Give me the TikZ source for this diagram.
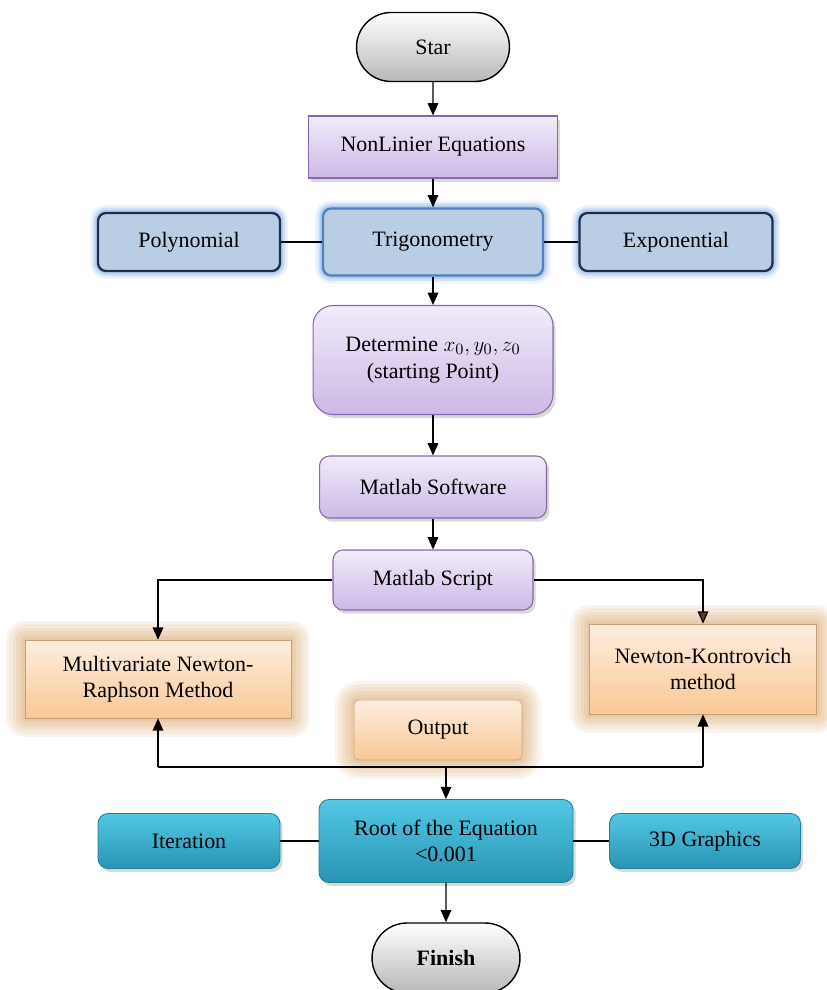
\documentclass[tikz,border=0pt]{standalone}
\usepackage{fontspec}
\setmainfont{Liberation Serif}
\usetikzlibrary{shapes.misc,shadows,arrows.meta}

\definecolor{lavtop}{HTML}{F2ECFA}
\definecolor{lavbot}{HTML}{CCB8E6}
\definecolor{lavline}{HTML}{8767AE}
\definecolor{bluefill}{HTML}{B9CDE5}
\definecolor{navyline}{HTML}{1E2E4F}
\definecolor{midblue}{HTML}{4F81BD}
\definecolor{blueglow}{HTML}{7FA9E0}
\definecolor{peachtop}{HTML}{FEEEDF}
\definecolor{peachbot}{HTML}{F9C896}
\definecolor{orangeglow}{HTML}{C98432}
\definecolor{tealtop}{HTML}{52C8E4}
\definecolor{tealbot}{HTML}{2894B3}
\definecolor{tealline}{HTML}{237F99}
\definecolor{brownarr}{HTML}{5A3B1C}

\tikzset{
  txt/.style={font=\fontsize{12.5}{15}\selectfont, align=center, inner sep=2pt},
  arr/.style={line width=0.7pt, -{Triangle[length=7pt,width=6pt]}},
  link/.style={line width=0.7pt},
  terminal/.style={txt, rounded rectangle, draw=black, line width=0.8pt,
    top color=white, bottom color=black!28},
  procbox/.style={txt, rectangle, draw=lavline, line width=0.6pt,
    top color=lavtop, bottom color=lavbot,
    drop shadow={shadow xshift=1.5pt, shadow yshift=-2pt, opacity=0.3}},
  typebox/.style={txt, rectangle, rounded corners=0.16cm, fill=bluefill,
    draw=navyline, line width=1.3pt,
    preaction={draw=blueglow, line width=9pt, opacity=0.15},
    preaction={draw=blueglow, line width=6pt, opacity=0.25},
    preaction={draw=blueglow, line width=3.5pt, opacity=0.35}},
  glow/.style={preaction={draw=orangeglow, line width=#1, opacity=0.09, line join=round}},
  methodbox/.style={txt, rectangle, draw=peachbot!80!black, line width=0.3pt,
    top color=peachtop, bottom color=peachbot,
    glow=22pt, glow=18pt, glow=14pt, glow=10pt, glow=6pt, glow=3pt},
  resultbox/.style={txt, rectangle, rounded corners=0.2cm, draw=tealline,
    line width=0.5pt, top color=tealtop, bottom color=tealbot,
    drop shadow={shadow xshift=1.5pt, shadow yshift=-2pt, opacity=0.3}}
}

\begin{document}
\begin{tikzpicture}[x=0.02cm, y=-0.02cm]
  \useasboundingbox (0,0) rectangle (827,990);

  \node[terminal, minimum width=3.2cm, minimum height=1.38cm] (star) at (433,47) {Star};
  \node[procbox, minimum width=4.98cm, minimum height=1.24cm] (nonlin) at (433,147) {NonLinier Equations};

  \node[typebox, minimum width=3.64cm, minimum height=1.16cm] (poly) at (189,242) {Polynomial};
  \node[typebox, draw=midblue, minimum width=4.4cm, minimum height=1.34cm] (trig) at (433,242) {Trigonometry};
  \node[typebox, minimum width=3.86cm, minimum height=1.16cm] (expo) at (676,242) {Exponential};

  \node[procbox, rounded corners=0.4cm, minimum width=4.8cm, minimum height=2.18cm] (start) at (433,360)
    {Determine $x_0,y_0,z_0$\\(starting Point)};
  \node[procbox, rounded corners=0.2cm, minimum width=4.54cm, minimum height=1.24cm] (soft) at (433,487) {Matlab Software};
  \node[procbox, rounded corners=0.2cm, minimum width=4.0cm, minimum height=1.2cm] (script) at (433,580) {Matlab Script};

  \node[methodbox, minimum width=5.32cm, minimum height=1.56cm] (multi) at (158,679) {Multivariate Newton-\\Raphson Method};
  \node[methodbox, minimum width=4.54cm, minimum height=1.8cm] (newton) at (703,669) {Newton-Kontrovich\\method};
  \node[methodbox, rounded corners=0.1cm, minimum width=3.36cm, minimum height=1.2cm] (output) at (438,730) {Output};

  \node[resultbox, minimum width=5.08cm, minimum height=1.66cm] (root) at (446,841) {Root of the Equation\\<0.001};
  \node[resultbox, minimum width=3.64cm, minimum height=1.1cm] (iter) at (189,841) {Iteration};
  \node[resultbox, minimum width=3.82cm, minimum height=1.1cm] (graph) at (705,841) {3D Graphics};

  \node[terminal, minimum width=3.1cm, minimum height=1.4cm, font=\fontsize{12.5}{15}\selectfont\bfseries] (finish) at (446,958) {Finish};

  % main flow
  \draw[arr] (star) -- (nonlin);
  \draw[arr] (nonlin) -- (trig);
  \draw[link] (poly) -- (trig);
  \draw[link] (trig) -- (expo);
  \draw[arr] (trig) -- (start);
  \draw[arr] (start) -- (soft);
  \draw[arr] (soft) -- (script);

  % the two methods
  \draw[arr] (script.west) -| (multi.north);
  \draw[arr, -{Triangle[length=7pt,width=6pt,fill=brownarr]}] (script.east) -| (newton.north);

  \coordinate (hub) at (446,767);
  \draw[link] (multi.south |- hub) -- (newton.south |- hub);
  \draw[arr] (multi.south |- hub) -- (multi.south);
  \draw[arr] (newton.south |- hub) -- (newton.south);
  \draw[arr] (hub) -- (root);

  \draw[link] (iter) -- (root);
  \draw[link] (root) -- (graph);
  \draw[arr] (root) -- (finish);
\end{tikzpicture}
\end{document}
